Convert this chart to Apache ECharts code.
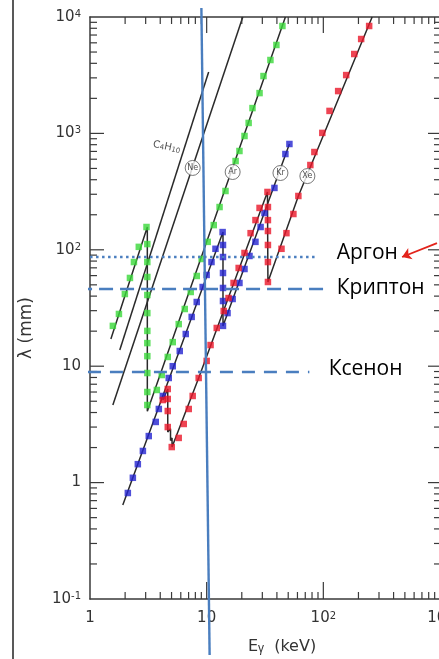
<!DOCTYPE html>
<html>
<head>
<meta charset="utf-8">
<script src="https://cdn.jsdelivr.net/npm/echarts@6.0.0/dist/echarts.min.js"></script>
<style>
  html, body { margin: 0; padding: 0; background: #fff; }
  #chart { width: 439px; height: 659px; }
</style>
</head>
<body>
<div id="chart"></div>
<script>
// axis ranges
const E_MIN = 1, E_MAX = 1000
const L_MIN = 0.1, L_MAX = 10000

// frame ticks
const xMajorTicks = [10, 100]
const xMinorTicks = [2, 3, 4, 5, 6, 7, 8, 9, 20, 30, 40, 50, 60, 70, 80, 90, 200, 300, 400, 500, 600, 700, 800, 900]
const yMajorTicks = [1, 10, 100, 1000]
const yMinorTicks = [0.2, 0.3, 0.4, 0.5, 0.6, 0.7, 0.8, 0.9, 2, 3, 4, 5, 6, 7, 8, 9,
  20, 30, 40, 50, 60, 70, 80, 90, 200, 300, 400, 500, 600, 700, 800, 900,
  2000, 3000, 4000, 5000, 6000, 7000, 8000, 9000]

// absorption length curves (E keV, lambda mm)
const c4h10Line = [[1.80, 13.8], [10.4, 3370]]
const neLine = [[1.57, 4.64], [20.4, 10000]]
const arLine = [[1.51, 17.1], [3.1, 157], [3.1, 4.1], [47.3, 10000]]
const krLine = [[1.91, 0.642], [13.8, 142], [13.8, 22.2], [51.2, 811]]
const xeLine = [[4.21, 5.12], [4.64, 6.37], [4.64, 2.72], [4.9, 2.9], [4.9, 2.3], [5.05, 2.42], [5.05, 2.02],
  [8.54, 7.92], [33.2, 314], [33.5, 52.9], [61.1, 290], [262, 10000]]

// coloured markers
const arPoints = [[1.57, 22.2], [1.77, 28.1], [1.99, 41.7], [2.20, 57.3], [2.38, 78.5], [2.62, 106], [3.05, 157],
  [3.1, 112], [3.1, 78.5], [3.1, 58.4], [3.1, 40.9], [3.1, 28.6], [3.1, 20.1], [3.1, 15.8], [3.1, 12.2], [3.1, 8.74], [3.1, 6.0], [3.1, 4.64],
  [3.74, 6.25], [4.12, 8.40], [4.64, 12.0], [5.12, 16.1], [5.76, 23.0], [6.49, 31.0], [7.30, 43.4], [8.22, 59.6],
  [9.06, 83.4], [10.2, 117], [11.5, 163], [12.9, 233], [14.5, 320], [17.7, 579], [19.1, 706], [21.1, 950],
  [22.9, 1230], [24.7, 1650], [28.4, 2220], [30.7, 3110], [35.2, 4270], [39.6, 5750], [44.6, 8370]]
const krPoints = [[2.11, 0.814], [2.33, 1.10], [2.57, 1.44], [2.84, 1.87], [3.19, 2.51], [3.66, 3.32], [3.89, 4.29],
  [4.21, 5.55], [4.73, 7.92], [5.12, 10.0], [5.88, 13.5], [6.62, 18.9], [7.44, 26.5], [8.22, 35.6], [9.24, 47.9],
  [10.0, 60.8], [11.0, 78.5], [11.9, 102], [13.7, 142],
  [13.8, 110], [13.8, 86.7], [13.8, 63.2], [13.8, 47.0], [13.8, 36.3], [13.8, 22.2],
  [15.1, 28.6], [16.7, 37.8], [19.1, 51.9], [21.1, 68.4], [23.3, 88.5], [26.2, 117], [29.0, 157], [31.3, 207],
  [38.1, 340], [47.3, 665], [51.2, 811]]
const xePoints = [[4.21, 5.12], [4.64, 6.37], [4.64, 5.23], [4.64, 4.12], [4.64, 3.00], [5.02, 2.02],
  [5.76, 2.42], [6.36, 3.19], [7.02, 4.29], [7.59, 5.55], [8.54, 7.92], [10.0, 11.1], [10.8, 15.2], [12.2, 21.3],
  [14.0, 29.8], [15.4, 38.5], [17.0, 51.9], [18.8, 69.8], [21.1, 93.9], [23.8, 139], [26.2, 180], [28.4, 229], [33.2, 314],
  [33.5, 233], [33.5, 180], [33.5, 145], [33.5, 110], [33.5, 78.5], [33.5, 52.9],
  [43.8, 102], [48.3, 139], [55.4, 203], [61.1, 290], [77.4, 535], [83.8, 692], [98.0, 1010], [113, 1560],
  [134, 2310], [157, 3170], [184, 4810], [211, 6470], [247, 8370]]

// circled gas tags
const gasTags = [[7.59, 505, 'Ne'], [16.7, 466, 'Ar'], [42.9, 457, 'Kr'], [73.0, 430, 'Xe']]
const c4h10Tag = [[4.55, 764]]

// annotation overlay
const argonRef = [[0.79, 86.7], [88.9, 86.7]]
const kryptonRef = [[0.79, 46.0], [106, 46.0]]
const xenonRef = [[0.96, 8.91], [75.9, 8.91]]
const energyLine = [[9.01, 11950], [10.6, 0.033]]
const refNames = [[129, 93.9, 'Аргон'], [129, 47.0, 'Криптон'], [110, 9.46, 'Ксенон']]
const arrowLine = [[942, 114], [473, 86.7]]

const AXIS = '#3a3a3a'
const CURVE = '#2a2a2a'
const REF = '#4a7ebf'
const TICK_FONT = 'DejaVu Sans'

const powLabel = (v) => {
  const e = Math.round(Math.log10(v))
  if (e === 0) return '1'
  if (e === 1) return '10'
  return '10{sup|' + e + '}'
}

const labelRich = {
  sup: { fontSize: 10, verticalAlign: 'top', lineHeight: 10, color: '#333', fontFamily: TICK_FONT }
}

const tickSeries = (values, dir, len, len2) => ({
  type: 'custom',
  silent: true,
  z: 6,
  data: values.map(v => dir === 'x' ? [v, L_MIN] : [E_MIN, v]),
  renderItem: (params, api) => {
    const v = api.value(dir === 'x' ? 0 : 1)
    const style = { stroke: AXIS, lineWidth: 1.2 }
    if (dir === 'x') {
      const b = api.coord([v, L_MIN])
      const t = api.coord([v, L_MAX])
      return {
        type: 'group',
        children: [
          { type: 'line', shape: { x1: b[0], y1: b[1], x2: b[0], y2: b[1] - len }, style },
          { type: 'line', shape: { x1: t[0], y1: t[1], x2: t[0], y2: t[1] + len2 }, style }
        ]
      }
    }
    const l = api.coord([E_MIN, v])
    const r = api.coord([E_MAX, v])
    return {
      type: 'group',
      children: [
        { type: 'line', shape: { x1: l[0], y1: l[1], x2: l[0] + len, y2: l[1] }, style },
        { type: 'line', shape: { x1: r[0], y1: r[1], x2: r[0] - len2, y2: r[1] }, style }
      ]
    }
  }
})

const curve = (data) => ({
  type: 'line', data, symbol: 'none', silent: true, z: 2,
  lineStyle: { color: CURVE, width: 1.5 }
})

const markers = (data, color) => ({
  type: 'scatter', data, symbol: 'rect', symbolSize: 6.5, silent: true, z: 3,
  itemStyle: { color }
})

const refLine = (data, type, width) => ({
  type: 'line', data, symbol: 'none', silent: true, clip: false, z: 8,
  lineStyle: { color: REF, width, type }
})

const chart = echarts.init(document.getElementById('chart'), null, { renderer: 'canvas' })

chart.setOption({
  animation: false,
  backgroundColor: '#fff',
  grid: { left: 90, top: 17, width: 350, height: 582, outerBoundsMode: 'none', containLabel: false },
  xAxis: [
    {
      type: 'log', logBase: 10, min: E_MIN, max: E_MAX, position: 'bottom',
      axisLine: { lineStyle: { color: AXIS, width: 1.5 } },
      axisTick: { show: false },
      splitLine: { show: false },
      axisLabel: {
        margin: 12, color: '#333', fontSize: 15, fontFamily: TICK_FONT,
        formatter: powLabel, rich: labelRich, hideOverlap: false
      }
    },
    {
      type: 'log', logBase: 10, min: E_MIN, max: E_MAX, position: 'top',
      axisLine: { lineStyle: { color: AXIS, width: 1.5 } },
      axisTick: { show: false }, axisLabel: { show: false }, splitLine: { show: false }
    }
  ],
  yAxis: [
    {
      type: 'log', logBase: 10, min: L_MIN, max: L_MAX, position: 'left',
      axisLine: { lineStyle: { color: AXIS, width: 1.5 } },
      axisTick: { show: false },
      splitLine: { show: false },
      axisLabel: {
        margin: 9, color: '#333', fontSize: 15, fontFamily: TICK_FONT,
        formatter: powLabel, rich: labelRich
      }
    },
    {
      type: 'log', logBase: 10, min: L_MIN, max: L_MAX, position: 'right',
      axisLine: { lineStyle: { color: AXIS, width: 1.5 } },
      axisTick: { show: false }, axisLabel: { show: false }, splitLine: { show: false }
    }
  ],
  graphic: [
    // picture border on the left
    { type: 'line', shape: { x1: 13, y1: 0, x2: 13, y2: 659 }, style: { stroke: '#222', lineWidth: 1.5 } },
    {
      type: 'text', x: 27, y: 328, rotation: Math.PI / 2,
      style: {
        text: 'λ (mm)', font: '17px "DejaVu Sans"', fill: '#333',
        align: 'center', verticalAlign: 'middle'
      }
    },
    {
      type: 'text', x: 282, y: 647,
      style: {
        text: 'E{sub|γ}  (keV)', font: '16px "DejaVu Sans"', fill: '#333',
        align: 'center', verticalAlign: 'middle',
        rich: { sub: { fontSize: 12, verticalAlign: 'bottom', lineHeight: 12, fill: '#333' } }
      }
    }
  ],
  series: [
    tickSeries(xMajorTicks, 'x', 17, 16),
    tickSeries(xMinorTicks, 'x', 7, 7),
    tickSeries(yMajorTicks, 'y', 14, 12),
    tickSeries(yMinorTicks, 'y', 7, 6),
    curve(c4h10Line),
    curve(neLine),
    curve(arLine),
    curve(krLine),
    curve(xeLine),
    markers(arPoints, '#3ad83a'),
    markers(krPoints, '#2323cf'),
    markers(xePoints, '#ea1528'),
    {
      type: 'scatter', data: gasTags, symbol: 'circle', symbolSize: 15, silent: true, z: 4,
      itemStyle: { color: '#fff', borderColor: '#555', borderWidth: 1 },
      label: {
        show: true, position: 'inside', formatter: (p) => p.data[2],
        fontSize: 8, fontFamily: TICK_FONT, color: '#222'
      }
    },
    {
      type: 'scatter', data: c4h10Tag, symbolSize: 1, silent: true, z: 4,
      itemStyle: { color: 'transparent' },
      label: {
        show: true, position: 'inside', rotate: -12,
        formatter: 'C{sub|4}H{sub|10}',
        fontSize: 10, fontFamily: TICK_FONT, color: '#222',
        rich: { sub: { fontSize: 7, verticalAlign: 'bottom', lineHeight: 7, color: '#222' } }
      }
    },
    refLine(argonRef, [2.5, 3.5], 2.6),
    refLine(kryptonRef, [14, 7], 2.4),
    refLine(xenonRef, [13, 9], 2.4),
    refLine(energyLine, 'solid', 2.4),
    {
      type: 'scatter', data: refNames, symbolSize: 1, silent: true, z: 9,
      itemStyle: { color: 'transparent' },
      label: {
        show: true, position: 'right', distance: 0, formatter: (p) => p.data[2],
        fontSize: 21, fontFamily: 'Open Sans', color: '#000', opacity: 1
      }
    },
    {
      type: 'lines', coordinateSystem: 'cartesian2d', silent: true, z: 9,
      symbol: ['none', 'arrow'], symbolSize: 9,
      lineStyle: { color: '#e3231b', width: 1.8, opacity: 1 },
      data: [{ coords: arrowLine }]
    }
  ]
})
</script>
</body>
</html>
